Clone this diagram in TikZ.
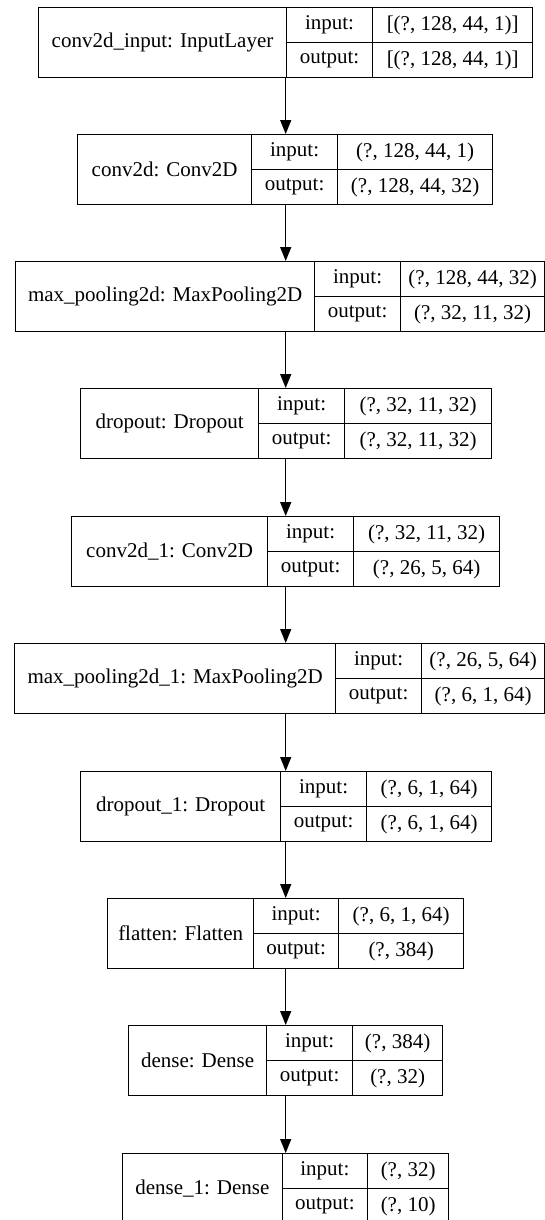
\documentclass[tikz,border=0pt]{standalone}
\usepackage{fontspec}
\setmainfont{Liberation Serif}
\newfontfamily\kerfont{Liberation Serif}
\usetikzlibrary{arrows.meta}
\tikzset{
  cell/.style={draw=black, line width=1.3bp, inner sep=0pt, anchor=north west,
    font=\kerfont\fontsize{21bp}{25bp}\selectfont},
  arr/.style={line width=1.3bp, -{Triangle[length=14bp,width=11bp]}},
}
% name, L, d1, d2, R, top, label, in, out
\newcommand\kerlayer[9]{%
  \node[cell, minimum width={(#3-#2)*1bp}, minimum height=70bp] (#1-name) at (#2,#6) {#7};
  \node[cell, minimum width={(#4-#3)*1bp}, minimum height=35bp] (#1-ik) at (#3,#6) {input:};
  \node[cell, minimum width={(#4-#3)*1bp}, minimum height=35bp] (#1-ok) at (#3,#6+35) {output:};
  \node[cell, minimum width={(#5-#4)*1bp}, minimum height=35bp] (#1-iv) at (#4,#6) {#8};
  \node[cell, minimum width={(#5-#4)*1bp}, minimum height=35bp] (#1-ov) at (#4,#6+35) {#9};
}
\begin{document}
\begin{tikzpicture}[x=1bp,y=-1bp]
\useasboundingbox (0,0) rectangle (545,1220);
\fill[white] (0,0) rectangle (545,1220);
\clip (0,0) rectangle (545,1220);
\kerlayer{a}{38}{285.7}{372}{532}{7}{conv2d\_input: InputLayer}{[(?, 128, 44, 1)]}{[(?, 128, 44, 1)]}
\kerlayer{b}{77}{251}{337}{492}{134}{conv2d: Conv2D}{(?, 128, 44, 1)}{(?, 128, 44, 32)}
\kerlayer{c}{15}{314}{400}{544}{261}{max\_pooling2d: MaxPooling2D}{(?, 128, 44, 32)}{(?, 32, 11, 32)}
\kerlayer{d}{80}{258}{344}{491}{388}{dropout: Dropout}{(?, 32, 11, 32)}{(?, 32, 11, 32)}
\kerlayer{e}{71}{267}{353}{499}{516}{conv2d\_1: Conv2D}{(?, 32, 11, 32)}{(?, 26, 5, 64)}
\kerlayer{f}{14}{335}{421}{544}{643}{max\_pooling2d\_1: MaxPooling2D}{(?, 26, 5, 64)}{(?, 6, 1, 64)}
\kerlayer{g}{80}{280}{366}{491}{771}{dropout\_1: Dropout}{(?, 6, 1, 64)}{(?, 6, 1, 64)}
\kerlayer{h}{107}{253}{338}{463}{898}{flatten: Flatten}{(?, 6, 1, 64)}{(?, 384)}
\kerlayer{i}{128}{266}{352}{442}{1025}{dense: Dense}{(?, 384)}{(?, 32)}
\kerlayer{j}{122}{281.5}{367}{448}{1153}{dense\_1: Dense}{(?, 32)}{(?, 10)}
\coordinate (ax) at (285.7,0);
\foreach \p/\q in {a/b,b/c,c/d,d/e,e/f,f/g,g/h,h/i,i/j}
  \draw[arr] (\p-name.south -| ax) -- (\q-name.north -| ax);
\end{tikzpicture}
\end{document}
